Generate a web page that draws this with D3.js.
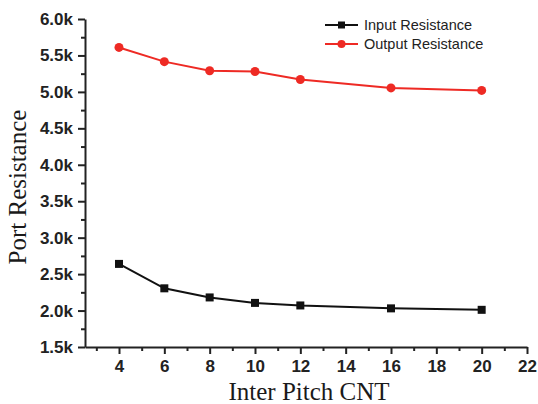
<!DOCTYPE html>
<html>
<head>
<meta charset="utf-8">
<script src="https://cdn.jsdelivr.net/npm/d3@7"></script>
<style>
  body { margin: 0; background: #fff; }
  .tick text { font-family: "Liberation Sans", Arial, sans-serif; font-weight: bold; font-size: 17px; fill: #222; }
  .axis-title { font-family: "Liberation Serif", "Times New Roman", serif; font-size: 25px; fill: #1a1a1a; }
  .legend text { font-family: "Liberation Sans", Arial, sans-serif; font-size: 14.5px; fill: #222; }
</style>
</head>
<body>
<svg width="538" height="404"></svg>
<script>
var pitch = [4, 6, 8, 10, 12, 16, 20];
var inputResistance = [2.64, 2.305, 2.18, 2.105, 2.07, 2.03, 2.01];
var outputResistance = [5.61, 5.415, 5.29, 5.28, 5.17, 5.055, 5.02];
var xTicks = [4, 6, 8, 10, 12, 14, 16, 18, 20, 22];
var yTicks = [1.5, 2.0, 2.5, 3.0, 3.5, 4.0, 4.5, 5.0, 5.5, 6.0];

var series = [
  { name: "Input Resistance", values: inputResistance, color: "#111", shape: "square" },
  { name: "Output Resistance", values: outputResistance, color: "#ee2a24", shape: "circle" }
];

var svg = d3.select("svg");
var plotLeft = 85, plotRight = 527, plotTop = 19, plotBottom = 347;

var x = d3.scaleLinear().domain([2.5, 22]).range([plotLeft, plotRight]);
var y = d3.scaleLinear().domain([1.5, 6.0]).range([plotBottom, plotTop]);

// minor ticks
var minorX = d3.range(3, 22, 2);
var minorY = d3.range(1.75, 6.0, 0.5);

svg.append("g")
  .attr("transform", "translate(0," + plotBottom + ")")
  .call(d3.axisBottom(x).tickValues(minorX).tickSize(4).tickFormat(""))
  .call(function(g){ g.select(".domain").remove(); })
  .selectAll("line").attr("stroke", "#222").attr("stroke-width", 2);

svg.append("g")
  .attr("transform", "translate(" + plotLeft + ",0)")
  .call(d3.axisLeft(y).tickValues(minorY).tickSize(4).tickFormat(""))
  .call(function(g){ g.select(".domain").remove(); })
  .selectAll("line").attr("stroke", "#222").attr("stroke-width", 2);

var xAxis = svg.append("g")
  .attr("transform", "translate(0," + plotBottom + ")")
  .call(d3.axisBottom(x).tickValues(xTicks).tickSize(7).tickSizeOuter(0).tickPadding(6));

var yAxis = svg.append("g")
  .attr("transform", "translate(" + plotLeft + ",0)")
  .call(d3.axisLeft(y).tickValues(yTicks).tickSize(7).tickSizeOuter(0).tickPadding(5)
    .tickFormat(function(d){ return d3.format(".1f")(d) + "k"; }));

[xAxis, yAxis].forEach(function(a){
  a.select(".domain").attr("stroke", "#222").attr("stroke-width", 2);
  a.selectAll(".tick line").attr("stroke", "#222").attr("stroke-width", 2);
});

svg.append("text")
  .attr("class", "axis-title")
  .attr("text-anchor", "middle")
  .attr("x", 309)
  .attr("y", 400)
  .text("Inter Pitch CNT");

svg.append("text")
  .attr("class", "axis-title")
  .attr("text-anchor", "middle")
  .attr("transform", "translate(26,187) rotate(-90)")
  .text("Port Resistance");

var line = d3.line()
  .x(function(d, i){ return x(pitch[i]); })
  .y(function(d){ return y(d); });

series.forEach(function(s){
  svg.append("path")
    .datum(s.values)
    .attr("fill", "none")
    .attr("stroke", s.color)
    .attr("stroke-width", 2)
    .attr("d", line);

  if (s.shape === "square") {
    svg.selectAll(null)
      .data(s.values)
      .enter()
      .append("rect")
        .attr("x", function(d, i){ return x(pitch[i]) - 4; })
        .attr("y", function(d){ return y(d) - 4; })
        .attr("width", 8)
        .attr("height", 8)
        .attr("fill", s.color);
  } else {
    svg.selectAll(null)
      .data(s.values)
      .enter()
      .append("circle")
        .attr("cx", function(d, i){ return x(pitch[i]); })
        .attr("cy", function(d){ return y(d); })
        .attr("r", 4.5)
        .attr("fill", s.color);
  }
});

// legend
var legend = svg.append("g").attr("class", "legend");
series.forEach(function(s, i){
  var ly = 25 + i * 19;
  legend.append("line")
    .attr("x1", 325).attr("x2", 358)
    .attr("y1", ly).attr("y2", ly)
    .attr("stroke", s.color).attr("stroke-width", 2);
  if (s.shape === "square") {
    legend.append("rect").attr("x", 341.5 - 3.5).attr("y", ly - 3.5)
      .attr("width", 7).attr("height", 7).attr("fill", s.color);
  } else {
    legend.append("circle").attr("cx", 341.5).attr("cy", ly).attr("r", 4).attr("fill", s.color);
  }
  legend.append("text")
    .attr("x", 364)
    .attr("y", ly + 5)
    .text(s.name);
});
</script>
</body>
</html>
